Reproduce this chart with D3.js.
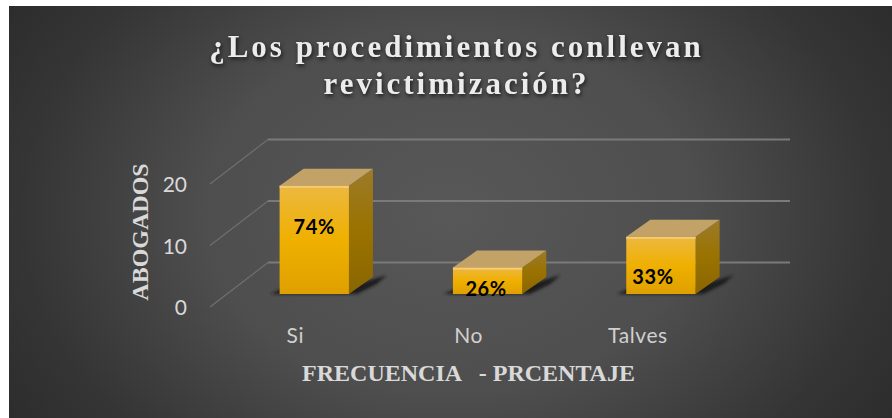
<!DOCTYPE html>
<html><head><meta charset="utf-8">
<script src="https://cdn.jsdelivr.net/npm/d3@7"></script>
<style>
html,body{margin:0;padding:0;background:#fff}
svg{display:block}
text{white-space:pre}
</style></head><body>
<svg id="c" width="892" height="418"></svg>
<script>
const categories = ["Si", "No", "Talves"];
const values = [17.6, 4.3, 9.3];
const dataLabels = ["74%", "26%", "33%"];
const yTicks = [0, 10, 20];
const titleLines = ["¿Los procedimientos conllevan", "revictimización?"];
const xTitle = "FRECUENCIA   - PRCENTAJE";
const yTitle = "ABOGADOS";

const svg = d3.select("#c");
const defs = svg.append("defs");

const bg = defs.append("radialGradient").attr("id","bg").attr("cx","0.5").attr("cy","0.5").attr("r","0.62")
  .attr("gradientTransform","translate(0.5,0.5) scale(1,1.6) translate(-0.5,-0.5)");
[[0,"#585858"],[0.45,"#4e4e4e"],[0.78,"#353535"],[1,"#2a2a2a"]].forEach(s=>bg.append("stop").attr("offset",s[0]).attr("stop-color",s[1]));
const front = defs.append("linearGradient").attr("id","front").attr("x1",0).attr("x2",0).attr("y1",0).attr("y2",1);
[[0,"#edb840"],[0.5,"#efb000"],[1,"#dfa000"]].forEach(s=>front.append("stop").attr("offset",s[0]).attr("stop-color",s[1]));
const side = defs.append("linearGradient").attr("id","side").attr("x1",0).attr("x2",0).attr("y1",0).attr("y2",1);
[[0,"#9c7b28"],[0.5,"#9a7200"],[1,"#8a6600"]].forEach(s=>side.append("stop").attr("offset",s[0]).attr("stop-color",s[1]));
const blur = defs.append("filter").attr("id","blur").attr("x","-30%").attr("y","-30%").attr("width","160%").attr("height","160%");
blur.append("feGaussianBlur").attr("stdDeviation",1.5);

svg.append("rect").attr("x",9).attr("y",6).attr("width",883).attr("height",412).attr("fill","url(#bg)");

const y = d3.scaleLinear().domain([0,20]).range([307,184]);
const x = d3.scaleBand().domain(categories).range([227.6,747.6]).paddingInner(0.6).paddingOuter(0.3);
const wallDx = 58, wallDy = -44.5, wallEnd = 790;
const barDy = -13, capDx = 24, capDy = -17;

// walls: depth lines and gridlines
yTicks.forEach(t=>{
  svg.append("path")
    .attr("d",`M210,${y(t)}L${210+wallDx},${y(t)+wallDy}`)
    .attr("fill","none").attr("stroke","#707070").attr("stroke-width",1.1);
  svg.append("line")
    .attr("x1",210+wallDx).attr("x2",wallEnd)
    .attr("y1",y(t)+wallDy).attr("y2",y(t)+wallDy)
    .attr("stroke","#7a7a7a").attr("stroke-width",2);
});

// y axis
const axisY = d3.axisLeft(y).tickValues(yTicks).tickSize(0).tickPadding(0).tickFormat(d3.format("d"));
const gy = svg.append("g").attr("transform","translate(187,0)").call(axisY);
gy.select(".domain").remove();
gy.selectAll("text").attr("fill","#d9d9d9").attr("font-family","Lato").attr("font-size",21).attr("dy","0.36em");

// bars
const base = y(0)+barDy;
categories.forEach((c,i)=>{
  const x0 = x(c), w = x.bandwidth(), top = y(values[i])+barDy, g = svg.append("g");
  g.append("path").attr("fill","#1c1c1c").attr("filter","url(#blur)")
    .attr("d",`M${x0-9},${base}L${x0+6},${base-7}L${x0+w},${base-7}L${x0+w+capDx+14},${base-19}L${x0+w+capDx+4},${base-10}L${x0+w+8},${base}Z`);
  g.append("path").attr("fill","url(#side)")
    .attr("d",`M${x0+w},${top}L${x0+w+capDx},${top+capDy}L${x0+w+capDx},${base+capDy}L${x0+w},${base}Z`);
  g.append("path").attr("fill","#c2a266")
    .attr("d",`M${x0},${top}L${x0+capDx},${top+capDy}L${x0+w+capDx},${top+capDy}L${x0+w},${top}Z`);
  g.append("rect").attr("x",x0).attr("y",top).attr("width",w).attr("height",base-top).attr("fill","url(#front)");
  g.append("rect").attr("x",x0).attr("y",top).attr("width",w).attr("height",2).attr("fill","#f6cc78");
});

// data labels (hand-placed in the original)
const labelDx = [0,-1.5,-8], labelBaseline = [234,296,284];
categories.forEach((c,i)=>{
  svg.append("text").attr("x",x(c)+x.bandwidth()/2+labelDx[i]).attr("y",labelBaseline[i])
    .attr("text-anchor","middle").attr("font-family","Lato").attr("font-weight",700).attr("font-size",20)
    .attr("letter-spacing",0.6).attr("fill","#000").text(dataLabels[i]);
});

// x labels
categories.forEach((c,i)=>{
  svg.append("text").attr("x",x(c)+x.bandwidth()/2-(i===2?23:19)).attr("y",343)
    .attr("text-anchor","middle").attr("font-family","Lato").attr("font-size",21).attr("letter-spacing",0.6)
    .attr("fill","#d0d0d0").text(c);
});

// titles
titleLines.forEach((t,i)=>{
  svg.append("text").attr("x",456.5).attr("y",57+i*36.5)
    .attr("text-anchor","middle").attr("font-family","Liberation Serif").attr("font-weight",700)
    .attr("font-size",31).attr("letter-spacing",3).attr("fill","#ececec")
    .style("filter","drop-shadow(1px 2px 2px rgba(0,0,0,0.7))").text(t);
});
svg.append("text").attr("x",468.5).attr("y",381).attr("text-anchor","middle")
  .attr("font-family","Liberation Serif").attr("font-weight",700).attr("font-size",24).attr("fill","#d9d9d9").text(xTitle);
svg.append("text").attr("transform","translate(148,232) rotate(-90)").attr("text-anchor","middle")
  .attr("font-family","Liberation Serif").attr("font-weight",700).attr("font-size",24).attr("fill","#d9d9d9").text(yTitle);
</script>
</body></html>
